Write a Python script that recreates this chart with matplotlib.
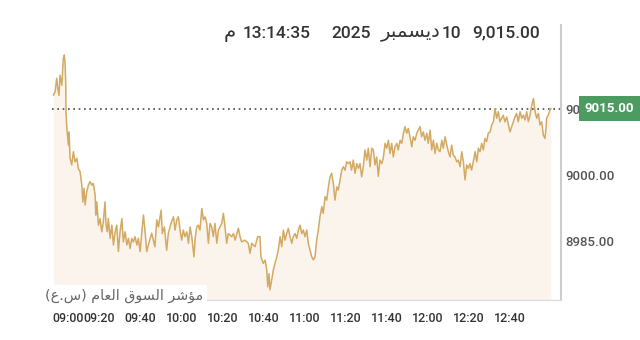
import matplotlib
matplotlib.use("Agg")
import matplotlib.pyplot as plt
import matplotlib.transforms as mtransforms

# minutes after 09:00 and index value
minutes = [-2.2, -1.4, -0.6, -0.1, 0.5, 1.0, 1.9, 2.6, 3.1, 3.5, 3.8, 3.9, 4.3, 5.1, 5.4, 5.9,
           6.7, 7.5, 8.3, 9.2, 9.9, 10.8, 11.6, 12.1, 12.7, 13.2, 14.0, 14.8, 15.6, 16.5, 17.2,
           18.1, 18.4, 18.9, 19.7, 20.5, 21.3, 22.1, 22.9, 23.4, 24.0, 24.5, 25.4, 26.2, 27.0,
           27.8, 28.6, 29.4, 30.2, 31.1, 31.8, 32.7, 33.5, 34.3, 35.1, 35.9, 36.7, 37.5, 38.4,
           39.1, 40.0, 40.8, 41.6, 42.4, 43.2, 44.0, 45.6, 47.2, 48.1, 48.9, 50.2, 50.8, 51.8,
           52.9, 53.7, 55.0, 56.2, 57.0, 57.8, 58.6, 59.4, 60.2, 61.0, 61.8, 62.7, 63.5, 64.3,
           65.1, 66.2, 66.7, 67.5, 68.3, 69.1, 70.0, 70.8, 71.6, 72.4, 73.2, 74.0, 74.8, 75.6,
           76.4, 77.3, 78.1, 79.7, 80.5, 81.3, 82.1, 82.9, 84.6, 85.4, 86.2, 87.8, 88.6, 89.4,
           91.0, 92.6, 93.5, 94.3, 95.9, 97.2, 98.3, 98.8, 99.9, 100.8, 101.6, 102.1, 102.7,
           103.2, 104.0, 104.8, 105.6, 106.5, 107.2, 108.1, 108.9, 109.7, 110.5, 111.3, 112.1,
           112.9, 113.8, 114.5, 115.4, 116.2, 117.0, 117.8, 118.6, 119.4, 120.2, 121.1, 121.8,
           122.7, 123.5, 124.3, 125.1, 125.9, 126.7, 127.5, 128.4, 129.1, 130.0, 130.8, 131.6,
           132.4, 133.2, 134.0, 134.8, 135.7, 136.4, 137.3, 138.1, 138.9, 139.7, 140.5, 141.3,
           142.1, 142.9, 143.7, 144.6, 145.4, 146.2, 147.0, 147.8, 148.6, 149.4, 150.3, 151.0,
           151.9, 152.7, 153.5, 154.3, 155.1, 155.9, 156.7, 157.6, 158.3, 159.2, 160.0, 160.8,
           161.6, 162.4, 163.2, 164.0, 164.9, 165.6, 166.5, 167.3, 168.1, 168.9, 169.7, 170.5,
           171.3, 172.2, 172.9, 173.8, 174.6, 176.2, 177.0, 177.8, 178.6, 179.5, 180.2, 181.1,
           181.9, 182.7, 183.5, 184.3, 185.1, 185.9, 186.8, 187.5, 188.4, 189.2, 190.0, 190.8,
           191.6, 192.4, 193.2, 194.1, 194.8, 195.7, 196.5, 197.3, 198.1, 198.9, 199.7, 200.5,
           201.3, 202.1, 203.0, 203.8, 204.6, 205.4, 206.2, 207.0, 207.8, 208.6, 209.4, 210.3,
           211.1, 211.9, 212.7, 213.5, 214.3, 215.1, 215.9, 216.7, 217.5, 218.4, 219.2, 220.0,
           220.8, 221.6, 222.4, 223.2, 224.0, 224.9, 225.7, 226.5, 227.3, 228.1, 228.9, 229.7,
           230.6, 231.4, 232.2, 233.0, 233.8, 234.6, 235.4, 236.2, 237.0, 237.5, 237.8, 238.6,
           239.4, 239.9]
index = [9018.1, 9018.8, 9021.9, 9019.7, 9018.0, 9022.6, 9020.3, 9026.4, 9027.2, 9024.9, 9020.3,
         9014.3, 9010.6, 9006.7, 9009.7, 9003.7, 9002.2, 9005.2, 9002.9, 9003.7, 9001.4, 9000.6,
         8997.6, 8993.8, 8996.9, 8993.1, 8996.1, 8997.6, 8998.4, 8997.6, 8998.0, 8995.3, 8990.8,
         8993.8, 8988.5, 8990.0, 8987.0, 8989.3, 8993.8, 8988.5, 8987.0, 8990.0, 8985.5, 8988.5,
         8984.0, 8987.0, 8988.5, 8982.5, 8987.0, 8990.0, 8984.7, 8987.0, 8984.0, 8985.5, 8983.2,
         8985.5, 8984.7, 8985.9, 8984.0, 8985.5, 8982.5, 8987.0, 8990.8, 8987.0, 8982.5, 8984.0,
         8986.7, 8983.6, 8989.7, 8988.1, 8991.9, 8986.6, 8988.1, 8982.8, 8986.6, 8988.9, 8990.4,
         8987.4, 8989.7, 8990.4, 8987.4, 8985.1, 8987.4, 8985.9, 8987.0, 8984.4, 8988.1, 8985.9,
         8981.3, 8985.1, 8988.1, 8988.5, 8987.4, 8992.3, 8989.7, 8990.4, 8988.9, 8984.4, 8988.9,
         8988.1, 8985.9, 8988.9, 8984.4, 8987.4, 8988.9, 8991.2, 8988.1, 8984.4, 8986.6, 8985.9,
         8986.6, 8985.1, 8987.8, 8985.9, 8984.7, 8985.1, 8984.4, 8982.1, 8984.4, 8983.6, 8985.9,
         8985.9, 8981.3, 8979.8, 8980.6, 8978.3, 8974.5, 8977.5, 8973.8, 8976.0, 8978.3, 8979.8,
         8981.3, 8982.8, 8985.9, 8983.6, 8987.4, 8985.1, 8986.6, 8987.8, 8985.9, 8984.4, 8985.9,
         8986.6, 8985.5, 8987.4, 8988.5, 8986.6, 8987.4, 8985.9, 8987.4, 8984.4, 8982.8, 8981.3,
         8980.6, 8981.3, 8985.1, 8987.4, 8990.4, 8992.7, 8991.2, 8995.0, 8994.2, 8997.2, 8999.5,
         9000.3, 8998.0, 8994.2, 8997.2, 8996.5, 8998.8, 9001.0, 9001.8, 9001.0, 9002.9, 9002.5,
         9002.9, 9001.0, 9003.3, 9000.3, 9002.5, 9001.4, 9002.5, 8999.5, 9001.8, 9005.6, 9003.3,
         9006.0, 9001.8, 9006.0, 9005.6, 9002.2, 9004.0, 8999.6, 9003.3, 9002.5, 9003.7, 9007.1,
         9006.0, 9007.8, 9004.8, 9007.1, 9004.0, 9006.3, 9007.1, 9005.6, 9007.8, 9007.1, 9009.4,
         9010.9, 9009.4, 9010.5, 9008.6, 9006.3, 9008.6, 9007.8, 9009.4, 9010.9, 9008.6, 9009.7,
         9007.8, 9009.4, 9007.1, 9010.1, 9005.6, 9007.8, 9004.8, 9007.1, 9005.6, 9005.2, 9007.8,
         9006.0, 9008.6, 9006.7, 9005.2, 9004.0, 9006.7, 9004.4, 9004.0, 9002.9, 9003.3, 9001.8,
         9005.2, 9002.9, 8998.8, 9002.2, 9001.4, 9002.5, 9001.0, 9002.9, 9005.2, 9002.9, 9006.0,
         9005.2, 9007.1, 9005.6, 9008.2, 9007.5, 9009.4, 9009.7, 9011.3, 9012.0, 9015.0, 9012.8,
         9014.3, 9012.0, 9012.8, 9013.5, 9012.0, 9013.1, 9011.3, 9009.7, 9010.9, 9012.0, 9013.1,
         9013.9, 9012.0, 9014.3, 9012.8, 9013.5, 9012.4, 9014.3, 9012.0, 9013.5, 9015.8, 9017.3,
         9014.3, 9012.8, 9013.9, 9011.3, 9012.0, 9009.0, 9008.2, 9010.5, 9012.8, 9013.5, 9014.7,
         9015.0]
last_value = 9015.00
y_ticks = [8985, 9000, 9015]
x_tick_minutes = [0, 20, 40, 60, 80, 100, 120, 140, 160, 180, 200, 220]
x_tick_labels = ["09:00", "09:20", "09:40", "10:00", "10:20", "10:40", "11:00",
                 "11:20", "11:40", "12:00", "12:20", "12:40"]
header_value = "9,015.00"
header_day, header_month, header_year = "10", "ديسمبر", "2025"
header_time, header_pm = "13:14:35", "م"
index_name = ["مؤشر", "السوق", "العام"]

# matplotlib does no arabic shaping: map letters to presentation forms, visual order
FORMS = {  # isolated, final, initial, medial
    "ا": ("\uFE8D", "\uFE8E", None, None),
    "ب": ("\uFE8F", "\uFE90", "\uFE91", "\uFE92"),
    "د": ("\uFEA9", "\uFEAA", None, None),
    "ر": ("\uFEAD", "\uFEAE", None, None),
    "س": ("\uFEB1", "\uFEB2", "\uFEB3", "\uFEB4"),
    "ش": ("\uFEB5", "\uFEB6", "\uFEB7", "\uFEB8"),
    "ع": ("\uFEC9", "\uFECA", "\uFECB", "\uFECC"),
    "ق": ("\uFED5", "\uFED6", "\uFED7", "\uFED8"),
    "ل": ("\uFEDD", "\uFEDE", "\uFEDF", "\uFEE0"),
    "م": ("\uFEE1", "\uFEE2", "\uFEE3", "\uFEE4"),
    "و": ("\uFEED", "\uFEEE", None, None),
    "ؤ": ("\uFE85", "\uFE86", None, None),
    "ي": ("\uFEF1", "\uFEF2", "\uFEF3", "\uFEF4"),
}

def shape(word):
    out = []
    for i, ch in enumerate(word):
        f = FORMS.get(ch)
        if f is None:
            out.append(ch); continue
        prev = FORMS.get(word[i - 1]) if i > 0 else None
        jp = prev is not None and prev[2] is not None
        jn = i + 1 < len(word) and word[i + 1] in FORMS and f[2] is not None
        out.append(f[3] if jp and jn else f[1] if jp else f[2] if jn else f[0])
    return "".join(reversed(out))

FAM = ["Noto Sans", "DejaVu Sans"]
NUMFAM = ["Roboto", "DejaVu Sans"]
ARFAM = ["DejaVu Sans"]
plt.rcParams["font.family"] = FAM
DARK = "#333333"

fig = plt.figure(figsize=(6.4, 3.4), dpi=100)
ax = fig.add_axes([52 / 640, 1 - 300 / 340, 509 / 640, 275 / 340])
ymin, ymax = 8971.5, 9034.0
ax.fill_between(minutes, index, ymin, color="#fbf4ed", lw=0, zorder=1)
ax.plot(minutes, index, color="#d3aa62", lw=1.1, zorder=3)
ax.axhline(last_value, color="#4a4a4a", lw=1.2, ls=(0, (1, 2.2)), zorder=2)
ax.set_xlim(-2.9, 244.8)
ax.set_ylim(ymin, ymax)

for s in ("top", "left"):
    ax.spines[s].set_visible(False)
ax.spines["right"].set_color("#cccccc")
ax.spines["right"].set_linewidth(1.5)
ax.spines["bottom"].set_color("#dddddd")
ax.spines["bottom"].set_linewidth(1.0)

ax.yaxis.tick_right()
ax.set_yticks(y_ticks)
ax.set_yticklabels([f"{v:.2f}" for v in y_ticks])
ax.tick_params(axis="y", length=0, pad=3, labelsize=9.5, labelcolor="#555555")
ax.set_xticks([-2.9] + x_tick_minutes[1:])
ax.set_xticklabels(x_tick_labels)
ax.tick_params(axis="x", length=0, pad=9, labelsize=9, labelcolor=DARK)
for lab in ax.get_yticklabels() + ax.get_xticklabels():
    lab.set_family(NUMFAM)
    lab.set_fontweight("medium")
ax.get_xticklabels()[0].set_ha("left")

tr = mtransforms.blended_transform_factory(ax.transAxes, ax.transData)
ax.text(1.047, last_value, f"{last_value:.2f}", transform=tr, ha="left", va="center",
        color="white", fontsize=9.5, fontweight="bold", family=NUMFAM, clip_on=False,
        zorder=5, bbox=dict(boxstyle="square,pad=0.45", fc="#4c9b60", ec="none"))

# header, pieces placed right to left
hy = 1 - 33 / 340
hkw = dict(va="center", color=DARK)
nkw = dict(fontsize=12.5, fontweight="medium", family=NUMFAM)
fig.text(540 / 640, hy, header_value, ha="right", **nkw, **hkw)
fig.text(461 / 640, hy, header_day, ha="right", **nkw, **hkw)
fig.text(441 / 640, hy, shape(header_month), ha="right", fontsize=14, family=ARFAM, **hkw)
fig.text(371 / 640, hy, header_year, ha="right", **nkw, **hkw)
fig.text(311 / 640, hy, header_time, ha="right", **nkw, **hkw)
fig.text(236 / 640, hy, shape(header_pm), ha="right", fontsize=14, family=ARFAM, **hkw)

name = "(" + shape("ع") + "." + shape("س") + ") " + " ".join(shape(w) for w in reversed(index_name))
fig.text(45 / 640, 1 - 296 / 340, name, ha="left", va="center", fontsize=10.3,
         color="#666666", family=ARFAM, zorder=6,
         bbox=dict(boxstyle="square,pad=0.3", fc="white", ec="none"))

fig.savefig("out.png", dpi=100)
